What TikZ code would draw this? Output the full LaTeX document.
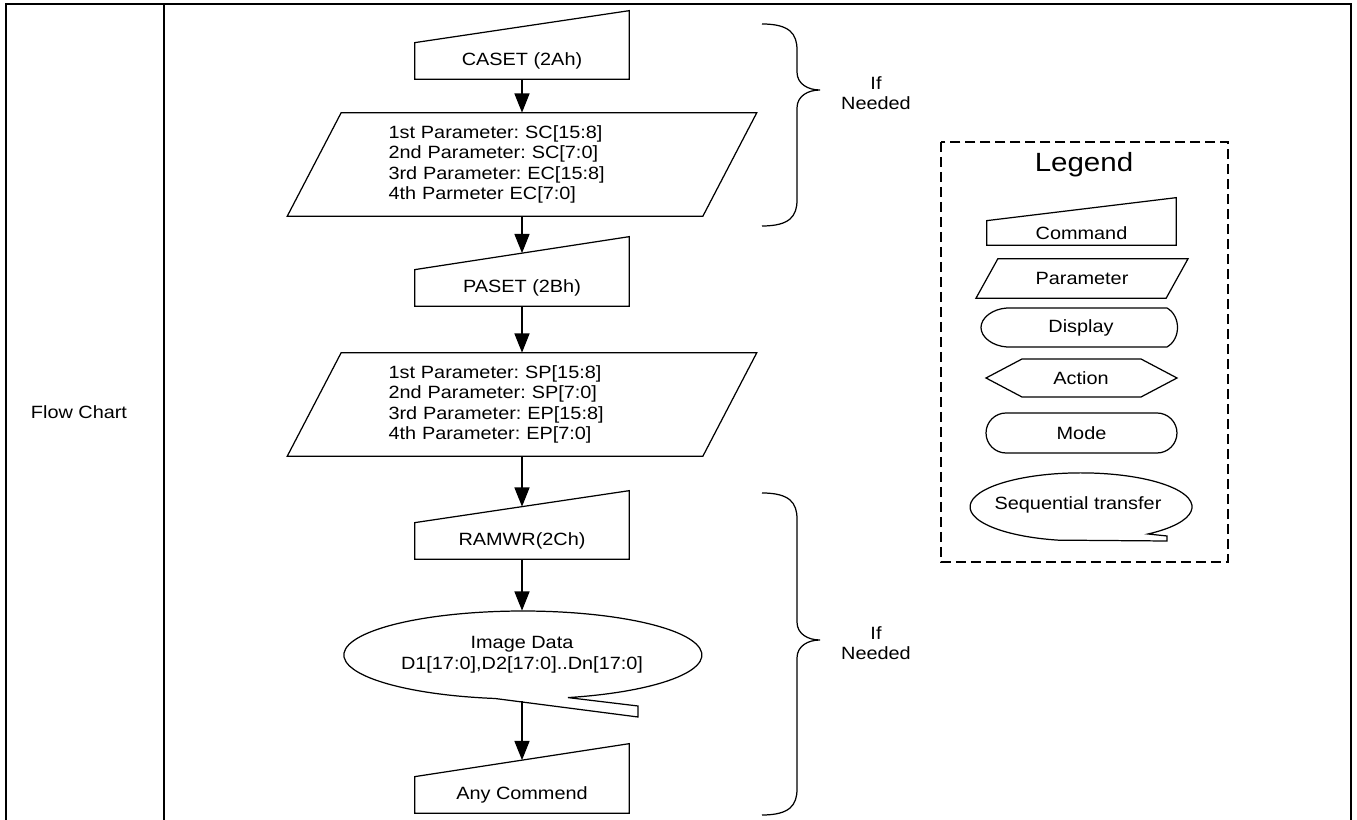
\documentclass[tikz,border=0pt]{standalone}
\usepackage{fontspec}
\setmainfont[FakeStretch=1.12]{Liberation Sans}
\usetikzlibrary{arrows.meta,calc,shapes.geometric,shapes.misc}
\frenchspacing

\tikzset{
  >={Triangle[length=11pt,width=8.6pt]},
  lbl/.style={font=\fontsize{10.1}{11.7}\selectfont, inner sep=0pt},
  cmdbox/.style={lbl, minimum width=4.28cm, minimum height=0.72cm},
  parbox/.style={lbl, minimum width=8.3cm, minimum height=2.06cm, text width=5.34cm, align=left},
  outline/.style={line width=0.7pt},
  flow/.style={->, line width=0.8pt},
  frame/.style={line width=1.15pt},
}

% command box: flat bottom, top edge rising to the right
\newcommand\cmdoutline[2]{\draw[outline] (#1.south west) -- (#1.south east) -- ($(#1.north east)+(0,-#2)$) -- (#1.north west) -- cycle;}
% parameter box: slanted sides
\newcommand\paroutline[2]{\draw[outline] ($(#1.north west)+(#2,0)$) -- ($(#1.north east)+(#2,0)$) -- ($(#1.south east)+(-#2,0)$) -- ($(#1.south west)+(-#2,0)$) -- cycle;}

\begin{document}
\begin{tikzpicture}[x=0.02cm, y=-0.02cm]
  \useasboundingbox (0,0) rectangle (1357,820);

  % table frame
  \draw[frame] (6,820) -- (6,4) -- (1351,4) -- (1351,820);
  \draw[frame] (164,4) -- (164,820);
  \node[lbl] (fc) at (79,412) {Flow Chart};

  % flow
  \node[cmdbox] (caset) at (522,61) {CASET (2Ah)};
  \cmdoutline{caset}{32}
  \node[parbox] (sc) at (522,164.5) {1st Parameter: SC[15:8]\\2nd Parameter: SC[7:0]\\3rd Parameter: EC[15:8]\\4th Parmeter EC[7:0]};
  \paroutline{sc}{27}
  \node[cmdbox] (paset) at (522,288) {PASET (2Bh)};
  \cmdoutline{paset}{33}
  \node[parbox] (sp) at (522,404.5) {1st Parameter: SP[15:8]\\2nd Parameter: SP[7:0]\\3rd Parameter: EP[15:8]\\4th Parameter: EP[7:0]};
  \paroutline{sp}{27}
  \node[cmdbox] (ramwr) at (522,541) {RAMWR(2Ch)};
  \cmdoutline{ramwr}{32}
  \node[lbl, ellipse, align=center, minimum width=7.16cm, minimum height=1.76cm] (img) at (522,655) {Image Data\\D1[17:0],D2[17:0]..Dn[17:0]};
  \draw[outline] (568,697.6) arc[start angle=75.4, end angle=-261, x radius=179, y radius=44] -- (638,717) -- (638,706) -- cycle;
  \coordinate (imgtail) at (522,701.5);
  \node[cmdbox] (any) at (522,795) {Any Commend};
  \cmdoutline{any}{33}

  \draw[flow] (caset.south) -- (sc.north);
  \draw[flow] (sc.south) -- ($(paset.north)+(0,-16.5)$);
  \draw[flow] (paset.south) -- (sp.north);
  \draw[flow] (sp.south) -- ($(ramwr.north)+(0,-16)$);
  \draw[flow] (ramwr.south) -- (img.north);
  \draw[flow] (imgtail) -- ($(any.north)+(0,-16.5)$);

  % braces
  \draw[outline] (762,24) .. controls (790,24) and (797,34) .. (797,50) -- (797,72) .. controls (797,84) and (808,90) .. (820,90) .. controls (808,90) and (797,96) .. (797,108) -- (797,200) .. controls (797,216) and (790,226) .. (762,226);
  \node[lbl, align=center] (need1) at (876,93) {If\\Needed};
  \draw[outline] (762,493) .. controls (790,493) and (797,503) .. (797,519) -- (797,622) .. controls (797,634) and (808,640) .. (820,640) .. controls (808,640) and (797,646) .. (797,658) -- (797,789) .. controls (797,805) and (790,815) .. (762,815);
  \node[lbl, align=center] (need2) at (876,643) {If\\Needed};

  % legend
  \draw[line width=1.1pt, dash pattern=on 0.2cm off 0.1cm] (941,142) rectangle (1228,562);
  \node[font=\fontsize{15}{17}\selectfont, inner sep=0pt] (legtitle) at (1084,165) {Legend};
  \node[lbl, minimum width=3.78cm, minimum height=0.48cm] (lcmd) at (1081.5,233) {Command};
  \cmdoutline{lcmd}{23}
  \node[lbl, minimum width=3.79cm, minimum height=0.78cm] (lpar) at (1082,278.5) {Parameter};
  \paroutline{lpar}{11}
  \node[lbl] (ldisp) at (1081,327.5) {Display};
  \draw[outline] (1007,308) -- (1167,308) .. controls (1181,316) and (1181,339) .. (1167,347) -- (1007,347) .. controls (992,346) and (981,337) .. (981,327.5) .. controls (981,318) and (992,309) .. (1007,308) -- cycle;
  \node[lbl] (lact) at (1081,378) {Action};
  \draw[outline] (986,378) -- (1022,359) -- (1141,359) -- (1177,378) -- (1141,397) -- (1022,397) -- cycle;
  \node[lbl, draw, outline, rounded rectangle, minimum width=3.82cm, minimum height=0.8cm] (lmode) at (1081.5,433) {Mode};
  \node[lbl] (lseq) at (1078,505) {Sequential transfer};
  \draw[outline] (1148,534) arc[start angle=52.9, end angle=-258, x radius=111, y radius=34] -- (1167,541) -- (1167,536) -- cycle;
\end{tikzpicture}
\end{document}
